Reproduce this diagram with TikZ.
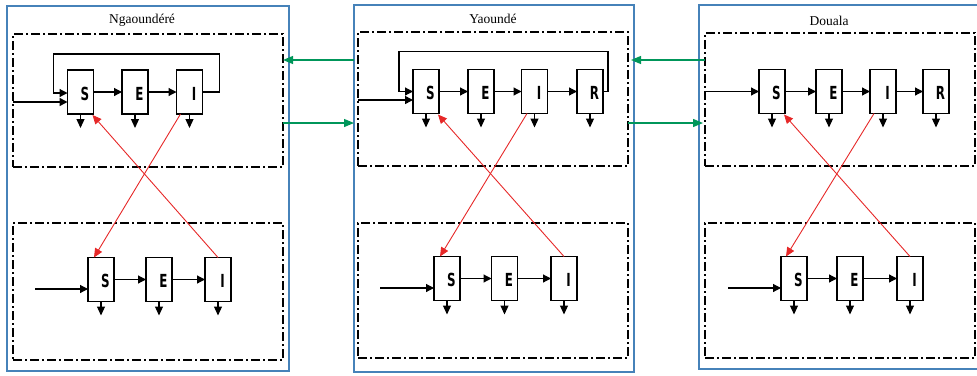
\documentclass[tikz,border=0pt]{standalone}
\usepackage{fontspec}
\setmainfont{Liberation Serif}
\newfontfamily\labfont{DejaVu Sans}
\usetikzlibrary{arrows.meta,calc}
\definecolor{pblue}{RGB}{70,130,185}
\definecolor{pgreen}{RGB}{0,150,90}
\definecolor{pred}{RGB}{230,40,40}
\tikzset{
  panel/.style={draw=pblue, line width=1.4pt, inner sep=0pt, outer sep=0pt},
  dbox/.style={draw=black, line width=1.5pt, dash pattern=on 9pt off 3pt on 2pt off 3pt, inner sep=0pt, outer sep=0pt},
  cbox/.style={draw, line width=1.3pt, minimum width=26pt, minimum height=44pt, inner sep=0pt, outer sep=0pt, fill=white},
  clab/.style={font=\labfont\bfseries\fontsize{18}{18}\selectfont, inner sep=0pt},
  flow/.style={line width=1.2pt, -{Triangle[length=8pt,width=8pt]}},
  drop/.style={line width=1.2pt, -{Triangle[length=9pt,width=8pt]}},
  inf/.style={pred, line width=0.9pt, -{Triangle[length=9pt,width=8pt]}},
  mig/.style={pgreen, line width=1.2pt, -{Triangle[length=10pt,width=8pt]}},
  title/.style={font=\fontsize{13.5}{13.5}\selectfont, inner sep=0pt}
}
\newcommand\compbox[4]{%
  \node[cbox] (#1) at (#2,#3) {};
  \node[clab] (#1t) at ($(#1)+(4.5,1.5)$) {\scalebox{0.66}[1]{#4}};
  \draw[drop] (#1.south) -- ++(0,14);
}
\begin{document}
\begin{tikzpicture}[x=1pt,y=-1pt]
\useasboundingbox (0,0) rectangle (977,375);
% panels
\node[panel, minimum width=282pt, minimum height=365pt] (P1) at (148,188.5) {};
\node[panel, minimum width=280pt, minimum height=367pt] (P2) at (494,188.5) {};
\node[panel, minimum width=281pt, minimum height=364pt] (P3) at (839.5,187) {};
\node[title] (T1) at (142,20) {Ngaoundéré};
\node[title] (T2) at (493,19) {Yaoundé};
\node[title] (T3) at (829,21) {Douala};
% dash boxes
\node[dbox, minimum width=270pt, minimum height=133pt] (U1) at (148,100.5) {};
\node[dbox, minimum width=270pt, minimum height=137pt] (L1) at (148,291.5) {};
\node[dbox, minimum width=270pt, minimum height=134pt] (U2) at (493,99) {};
\node[dbox, minimum width=270pt, minimum height=135pt] (L2) at (493,290.5) {};
\node[dbox, minimum width=270pt, minimum height=133pt] (U3) at (840,99.5) {};
\node[dbox, minimum width=270pt, minimum height=135pt] (L3) at (840,290.5) {};
% compartments
\compbox{S1u}{80.5}{92}{S}
\compbox{E1u}{135}{92}{E}
\compbox{I1u}{189.5}{92}{I}
\compbox{S1l}{101}{279.5}{S}
\compbox{E1l}{159}{279.5}{E}
\compbox{I1l}{218}{279.5}{I}
\compbox{S2u}{426}{91.5}{S}
\compbox{E2u}{481}{91.5}{E}
\compbox{I2u}{534.5}{91.5}{I}
\compbox{R2u}{590}{91.5}{R}
\compbox{S2l}{447}{278.5}{S}
\compbox{E2l}{504.5}{278.5}{E}
\compbox{I2l}{564}{278.5}{I}
\compbox{S3u}{772}{91.5}{S}
\compbox{E3u}{829}{91.5}{E}
\compbox{I3u}{883}{91.5}{I}
\compbox{R3u}{936}{91.5}{R}
\compbox{S3l}{794}{278.5}{S}
\compbox{E3l}{850}{278.5}{E}
\compbox{I3l}{910}{278.5}{I}
% flows between compartments
\draw[flow] (S1u) -- (E1u);
\draw[flow] (E1u) -- (I1u);
\draw[flow] (S1l) -- (E1l);
\draw[flow] (E1l) -- (I1l);
\draw[flow] (S2u) -- (E2u);
\draw[flow] (E2u) -- (I2u);
\draw[flow] (I2u) -- (R2u);
\draw[flow] (S2l) -- (E2l);
\draw[flow] (E2l) -- (I2l);
\draw[flow] (S3u) -- (E3u);
\draw[flow] (E3u) -- (I3u);
\draw[flow] (I3u) -- (R3u);
\draw[flow] (S3l) -- (E3l);
\draw[flow] (E3l) -- (I3l);
% recruitment inputs
\coordinate (in1) at ($(S1u.west)+(0,10)$);
\draw[flow, line width=1.6pt] (U1.west |- in1) -- (in1);
\coordinate (in2) at ($(S2u.west)+(0,8.5)$);
\draw[flow, line width=1.6pt] (U2.west |- in2) -- (in2);
\draw[flow] (U3.west |- S3u.west) -- (S3u.west);
\coordinate (a1) at (35,289);
\draw[flow] (a1) -- (S1l.west |- a1);
\coordinate (a2) at (380,288);
\draw[flow] (a2) -- (S2l.west |- a2);
\coordinate (a3) at (728,288);
\draw[flow] (a3) -- (S3l.west |- a3);
% feedback loops
\draw[flow] (I1u.east) -- ++(17,0) -- ++(0,-38) -- ++(-166,0) -- ++(0,39) -- ($(S1u.west)+(0,1)$);
\draw[flow] (R2u.east) -- ++(5,0) -- ++(0,-40) -- ++(-209,0) -- ++(0,40) -- (S2u.west);
% cross infection
\draw[inf] ($(I1u.south west)+(4,0)$) -- ($(S1l.north west)+(6,0)$);
\draw[inf] (I1l.north) -- ($(S1u.south east)+(-1,1)$);
\draw[inf] ($(I2u.south west)+(5.5,0)$) -- ($(S2l.north west)+(6,0)$);
\draw[inf] (I2l.north) -- ($(S2u.south east)+(-1,1)$);
\draw[inf] ($(I3u.south west)+(4,0)$) -- ($(S3l.north west)+(5,0)$);
\draw[inf] (I3l.north) -- ($(S3u.south east)+(-1,1)$);
% migration
\coordinate (gA) at (0,60);
\coordinate (gB) at (0,123);
\draw[mig] (P2.west |- gA) -- (U1.east |- gA);
\draw[mig] (U1.east |- gB) -- (P2.west |- gB);
\draw[mig] (U3.west |- gA) -- ($(U2.east |- gA)+(3,0)$);
\draw[mig] (U2.east |- gB) -- ($(U3.west |- gB)+(-2,0)$);
\end{tikzpicture}
\end{document}
